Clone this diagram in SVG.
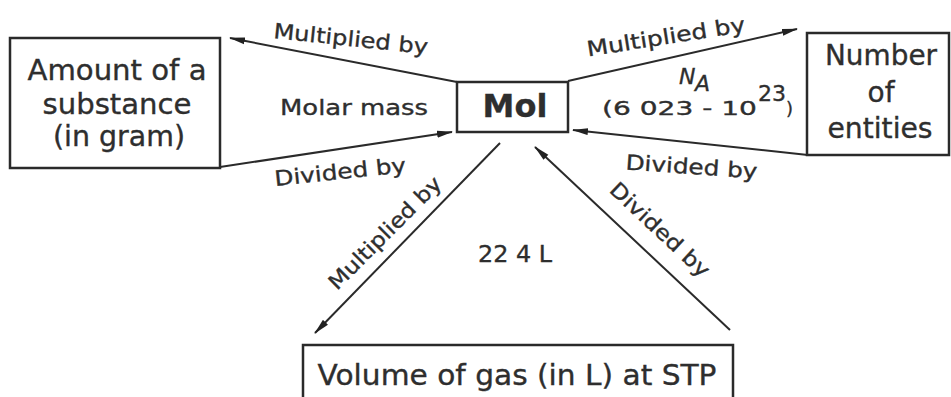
<svg xmlns="http://www.w3.org/2000/svg" width="951" height="397" viewBox="0 0 951 397">
  <style>
    .box { fill: #ffffff; stroke: #2a2a2a; stroke-width: 2.5; }
    .t { font-family: "DejaVu Sans", "Liberation Sans", sans-serif; fill: #2e2e2e; stroke: #2e2e2e; stroke-width: 0.35; }
    .big { font-size: 28px; text-anchor: middle; }
    .lbl { font-size: 21px; text-anchor: middle; }
    .conn { stroke: #2a2a2a; stroke-width: 2; fill: none; marker-end: url(#arr); }
  </style>
  <defs>
    <marker id="arr" markerUnits="userSpaceOnUse" markerWidth="16" markerHeight="8" refX="15" refY="4" orient="auto">
      <path d="M0,0.5 L16,4 L0,7.5 Z" fill="#222"/>
    </marker>
  </defs>
  <rect width="951" height="397" fill="#ffffff"/>

  <g id="connectors">
    <line class="conn" x1="457" y1="82" x2="230" y2="38"/>
    <line class="conn" x1="220" y1="167" x2="452" y2="132"/>
    <line class="conn" x1="568" y1="81" x2="797" y2="29"/>
    <line class="conn" x1="808" y1="155" x2="573" y2="130"/>
    <line class="conn" x1="500" y1="143" x2="315" y2="333"/>
    <line class="conn" x1="730" y1="330" x2="535" y2="147"/>
  </g>

  <g id="node-amount">
    <rect class="box" x="10" y="38" width="210" height="130"/>
    <text class="t big" x="117" y="80" textLength="179" lengthAdjust="spacingAndGlyphs">Amount of a</text>
    <text class="t big" x="117" y="114" textLength="149" lengthAdjust="spacingAndGlyphs">substance</text>
    <text class="t big" x="119" y="146" textLength="132" lengthAdjust="spacingAndGlyphs">(in gram)</text>
  </g>

  <g id="node-mol">
    <rect class="box" x="457" y="82" width="111" height="50"/>
    <text class="t" x="515" y="117" font-size="32" font-weight="bold" text-anchor="middle" fill="#1e1e1e">Mol</text>
  </g>

  <g id="node-entities">
    <rect class="box" x="807" y="33" width="142" height="122"/>
    <text class="t big" x="881" y="65" textLength="112" lengthAdjust="spacingAndGlyphs">Number</text>
    <text class="t big" x="881" y="102">of</text>
    <text class="t big" x="880" y="138" textLength="105" lengthAdjust="spacingAndGlyphs">entities</text>
  </g>

  <g id="node-volume">
    <rect class="box" x="303" y="345" width="430" height="56"/>
    <text class="t big" x="517" y="385" font-size="30" textLength="399" lengthAdjust="spacingAndGlyphs">Volume of gas (in L) at STP</text>
  </g>

  <g id="labels">
    <text class="t lbl" transform="translate(350,46) rotate(6)" textLength="155" lengthAdjust="spacingAndGlyphs">Multiplied by</text>
    <text class="t lbl" x="354" y="115" font-size="22" textLength="148" lengthAdjust="spacingAndGlyphs">Molar mass</text>
    <text class="t lbl" transform="translate(341,179) rotate(-6)" textLength="132" lengthAdjust="spacingAndGlyphs">Divided by</text>

    <text class="t lbl" transform="translate(667,44) rotate(-9)" textLength="160" lengthAdjust="spacingAndGlyphs">Multiplied by</text>
    <text class="t" x="679" y="84" font-size="22" font-style="italic">N<tspan x="695" y="91">A</tspan></text>
    <text class="t" x="602" y="115" font-size="20" textLength="155" lengthAdjust="spacingAndGlyphs">(6 023 - 10</text>
    <text class="t" x="758" y="101" font-size="22">23</text>
    <text class="t" x="786" y="115" font-size="18">)</text>
    <text class="t lbl" transform="translate(691,174) rotate(4)" textLength="132" lengthAdjust="spacingAndGlyphs">Divided by</text>

    <text class="t lbl" transform="translate(390,238) rotate(-45)" textLength="150" lengthAdjust="spacingAndGlyphs">Multiplied by</text>
    <text class="t lbl" transform="translate(655,235) rotate(43)" textLength="128" lengthAdjust="spacingAndGlyphs">Divided by</text>
    <text class="t" x="515" y="262" font-size="23" text-anchor="middle" textLength="74" lengthAdjust="spacingAndGlyphs">22 4 L</text>
  </g>
</svg>
